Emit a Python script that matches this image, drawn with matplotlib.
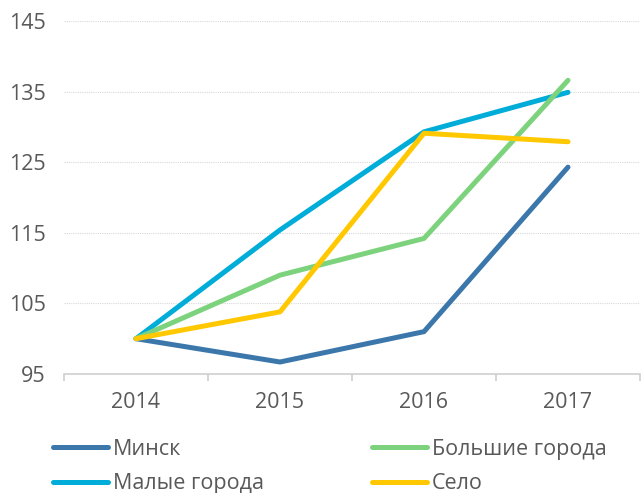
import matplotlib.pyplot as plt
import numpy as np

years = ["2014", "2015", "2016", "2017"]
minsk = [100.0, 96.7, 101.0, 124.3]
big_cities = [100.0, 109.0, 114.2, 136.6]
small_cities = [100.0, 115.4, 129.3, 134.9]
village = [100.0, 103.8, 129.1, 127.9]

series = [
    ("Минск", minsk, "#3b77ab"),
    ("Малые города", small_cities, "#00acd8"),
    ("Большие города", big_cities, "#7dd37d"),
    ("Село", village, "#ffc800"),
]

plt.rcParams["font.family"] = ["Open Sans", "DejaVu Sans"]
text_color = "#595959"
fsize = 15.5

fig = plt.figure(figsize=(6.41, 4.93), dpi=100)
ax = fig.add_axes([64 / 641, 1 - 374 / 493, 576 / 641, 353 / 493])

x = np.arange(len(years))
handles = []
for name, vals, color in series:
    h, = ax.plot(x, vals, color=color, linewidth=3.6, solid_capstyle="round",
                 solid_joinstyle="round", label=name, zorder=3)
    handles.append(h)

ax.set_xlim(-0.5, 3.5)
ax.set_ylim(95, 145)
ax.set_yticks(np.arange(95, 146, 10))
ax.set_xticks(x)
ax.set_xticklabels(years)
ax.set_xticks(np.arange(-0.5, 3.6, 1), minor=True)

ax.grid(axis="y", color="#d9d9d9", linestyle=(0, (1, 1)), linewidth=0.8)
for s in ["top", "right", "left"]:
    ax.spines[s].set_visible(False)
ax.spines["bottom"].set_color("#d0d0d0")
ax.spines["bottom"].set_linewidth(1.2)
ax.tick_params(axis="y", length=0, pad=13, labelsize=fsize, labelcolor=text_color)
ax.tick_params(axis="x", which="major", length=0, pad=13, labelsize=fsize, labelcolor=text_color)
ax.tick_params(axis="x", which="minor", length=5, width=1.2, color="#d0d0d0")

fig.legend(handles=handles, loc="upper left", bbox_to_anchor=(53 / 641, 1 - 439 / 493),
           ncol=2, frameon=False, fontsize=fsize, labelcolor=text_color,
           handlelength=2.55, handletextpad=0.25, columnspacing=5.0,
           labelspacing=0.62, borderaxespad=0, borderpad=0)

fig.savefig("out.png", dpi=100)
